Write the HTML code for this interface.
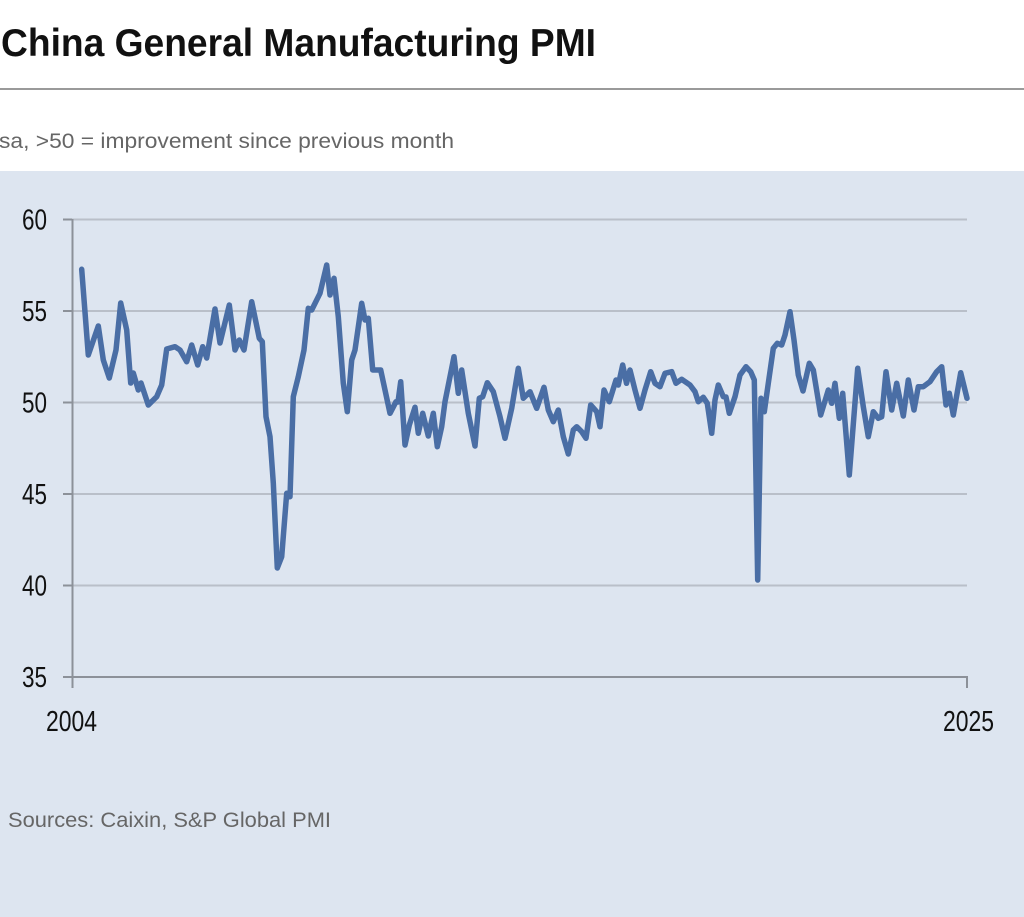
<!DOCTYPE html>
<html>
<head>
<meta charset="utf-8">
<style>
html,body{margin:0;padding:0;background:#fff;}
body{width:1024px;height:917px;overflow:hidden;}
svg{display:block;}
</style>
</head>
<body>
<svg width="1024" height="917" viewBox="0 0 1024 917" xmlns="http://www.w3.org/2000/svg">
  <rect x="0" y="0" width="1024" height="917" fill="#ffffff"/>
  <text x="1" y="56" font-family="Liberation Sans, sans-serif" font-weight="bold" font-size="39" fill="#111111" textLength="595" lengthAdjust="spacingAndGlyphs">China General Manufacturing PMI</text>
  <rect x="0" y="88" width="1024" height="2" fill="#9a9a9a"/>
  <text x="-1" y="148" font-family="Liberation Sans, sans-serif" font-size="21" fill="#666666" textLength="455" lengthAdjust="spacingAndGlyphs">sa, &gt;50 = improvement since previous month</text>
  <rect x="0" y="171" width="1024" height="746" fill="#dde5f0"/>

  <!-- gridlines -->
  <g stroke="#b9bfc9" stroke-width="2">
    <line x1="72" y1="219.5" x2="967" y2="219.5"/>
    <line x1="72" y1="311" x2="967" y2="311"/>
    <line x1="72" y1="402.5" x2="967" y2="402.5"/>
    <line x1="72" y1="494" x2="967" y2="494"/>
    <line x1="72" y1="585.5" x2="967" y2="585.5"/>
  </g>
  <!-- axes -->
  <g stroke="#8c9199" stroke-width="2" fill="none">
    <line x1="72.5" y1="219" x2="72.5" y2="688"/>
    <line x1="72" y1="677" x2="967" y2="677"/>
    <line x1="967" y1="676" x2="967" y2="688"/>
    <line x1="63" y1="219.5" x2="72" y2="219.5"/>
    <line x1="63" y1="311" x2="72" y2="311"/>
    <line x1="63" y1="402.5" x2="72" y2="402.5"/>
    <line x1="63" y1="494" x2="72" y2="494"/>
    <line x1="63" y1="585.5" x2="72" y2="585.5"/>
    <line x1="63" y1="677" x2="72" y2="677"/>
  </g>

  <!-- y labels -->
  <g font-family="Liberation Sans Narrow, Liberation Sans, sans-serif" font-size="29" fill="#111111" text-anchor="end">
    <text x="47" y="229.5" textLength="25" lengthAdjust="spacingAndGlyphs">60</text>
    <text x="47" y="321" textLength="25" lengthAdjust="spacingAndGlyphs">55</text>
    <text x="47" y="412.5" textLength="25" lengthAdjust="spacingAndGlyphs">50</text>
    <text x="47" y="504" textLength="25" lengthAdjust="spacingAndGlyphs">45</text>
    <text x="47" y="595.5" textLength="25" lengthAdjust="spacingAndGlyphs">40</text>
    <text x="47" y="687" textLength="25" lengthAdjust="spacingAndGlyphs">35</text>
  </g>
  <g font-family="Liberation Sans Narrow, Liberation Sans, sans-serif" font-size="29" fill="#111111">
    <text x="46" y="731" textLength="51" lengthAdjust="spacingAndGlyphs">2004</text>
    <text x="943" y="731" textLength="51" lengthAdjust="spacingAndGlyphs">2025</text>
  </g>

  <!-- series -->
  <polyline fill="none" stroke="#4a6ea5" stroke-width="5.5" stroke-linejoin="round" stroke-linecap="round" points="
81.7,269.3 88.3,355 98.3,326 103.3,360 109.3,378 116,350 120.7,303 126.7,330 130.7,383 133.3,373 138.3,390 141,383 148.3,405 156.7,396.7 161.7,385 166.7,349 175,346.7 180,350 186.7,361.7 191.7,345 197.7,365 202.7,346.7 206.7,358 215,309 220,343 229.3,305 235,350 239.3,340 244,350 251.7,301.7 259.3,338.3 262.3,341.7 266,416.7 270,436.7 273.3,483 277.3,568 281.7,556.7 286.7,493.3 290,496.7 293.3,396.7 298.3,376.7 304,350 308.3,308.3 311.7,310 320,293.3 326.7,265 330,295 334,278.3 338.3,316.7 343.3,383.3 347.3,411.7 351.7,360 355,350 361.7,303.3 365,320 368.3,318.3 372.7,370 380.7,370 390,413.3 396,401.7 398,402 400.7,381.7 405,445 409.3,425 415,407.3 418.3,433.3 422.7,413.3 428.3,436 433.3,413.3 437.3,446.7 441.7,426.7 445,401.7 454,356.7 458.3,393.3 461.7,370 468.3,413.3 475,446 479.3,398.3 482.7,396.7 487.3,382.7 493.3,391.7 500,416.7 505,438.3 511.7,408.3 518.3,368.3 523.3,398.3 530,391.7 536.7,408.3 544,387.3 548.3,410 553.3,421.7 558.3,410 563.3,436.7 568.3,454 573.3,430 576.7,426.7 581.7,431.7 586,438.3 590.7,405 596.7,411.7 600,426.7 604,390 609.3,401.7 616,380 618.3,385 622.7,365 626.5,383.3 630,370 635,390 640,408.3 645,390 650.7,371.7 655,383.3 660,386.7 665,373.3 671.7,371.7 676,383.3 681.7,379.3 690,385 695,391.7 698.3,401.7 703.3,397.3 707.3,403.3 711.7,433.3 715,400 718.3,385 723.3,396.7 726,397 729.3,413.3 735,396.7 740,375 746,366.7 750.7,371.7 754.3,380 757.7,580 761,398.3 764.3,411.7 768.3,383.3 773.3,348.3 777.3,343.3 781.7,345 785,335 790,311.7 794,340 798.3,375 803,391 809.3,363.3 813.3,370 820.7,415 828.3,390 831.7,403.3 835,383.3 839.3,418.3 842.7,393.3 849.3,475 857.7,368.3 863.3,406.7 868.3,436.7 873.3,411.7 878.3,418.3 881.7,416.7 886,371.7 891.7,410 896.7,383.3 903.3,416 908.3,380 914,410 918.3,386.7 923.3,386.7 930,381.7 936.7,371.7 941.7,366.7 946,405 949.3,393.3 953.3,415 960.7,372.7 967,398.3"/>

  <text x="8" y="827" font-family="Liberation Sans, sans-serif" font-size="21" fill="#666666" textLength="323" lengthAdjust="spacingAndGlyphs">Sources: Caixin, S&amp;P Global PMI</text>
</svg>
</body>
</html>
